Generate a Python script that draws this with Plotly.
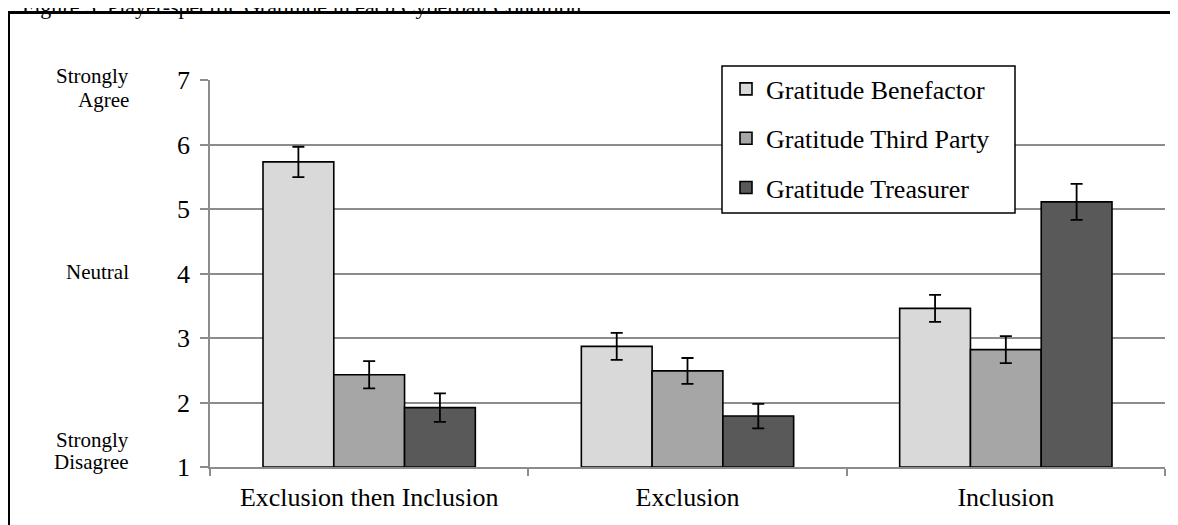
import plotly.graph_objects as go

conditions = ["Exclusion then Inclusion", "Exclusion", "Inclusion"]
series_names = ["Gratitude Benefactor", "Gratitude Third Party", "Gratitude Treasurer"]
benefactor = [5.73, 2.87, 3.46]
third_party = [2.43, 2.49, 2.82]
treasurer = [1.92, 1.79, 5.11]
benefactor_err = [0.235, 0.21, 0.21]
third_party_err = [0.21, 0.20, 0.21]
treasurer_err = [0.22, 0.19, 0.28]
y_ticks = [1, 2, 3, 4, 5, 6, 7]
colors = ["#d9d9d9", "#a6a6a6", "#595959"]
title_text = "Figure 3. Player-specific Gratitude in each Cyberball Condition"

FONT = "Liberation Serif, Times New Roman, serif"
GRID = "#8c8c8c"

fig = go.Figure()
for name, vals, errs, col in zip(series_names, [benefactor, third_party, treasurer],
                                 [benefactor_err, third_party_err, treasurer_err], colors):
    fig.add_trace(go.Bar(
        x=conditions, y=[v - 1 for v in vals], base=1, name=name,
        legendgroup=name,
        marker=dict(color=col, line=dict(color="black", width=1.6)),
        error_y=dict(type="data", array=errs, visible=True, color="black",
                     thickness=1.8, width=6),
    ))

OFF = 8  # page body margin
W, H = 1170, 517
ml, mr, mt, mb = 202, 13, 72, 58
pw, ph = W - ml - mr, H - mt - mb

def px_x(sx):
    return (sx - OFF - ml) / pw

def px_y(sy):
    return (H - mb - (sy - OFF)) / ph

annotations = [
    dict(text="Strongly", x=px_x(131), y=px_y(76), xanchor="right", yanchor="middle"),
    dict(text="Agree", x=px_x(131), y=px_y(99.5), xanchor="right", yanchor="middle"),
    dict(text="Neutral", x=px_x(131), y=px_y(272), xanchor="right", yanchor="middle"),
    dict(text="Strongly", x=px_x(131), y=px_y(440), xanchor="right", yanchor="middle"),
    dict(text="Disagree", x=px_x(131), y=px_y(462), xanchor="right", yanchor="middle"),
]
for a in annotations:
    a.update(xref="paper", yref="paper", showarrow=False, align="right",
             font=dict(family=FONT, size=21, color="black"))

annotations.append(dict(text=title_text, xref="paper", yref="paper",
                        x=px_x(20), y=px_y(21), xanchor="left", yanchor="bottom",
                        showarrow=False, font=dict(family=FONT, size=22, color="black")))

fig.update_layout(
    width=W, height=H,
    margin=dict(l=ml, r=mr, t=mt, b=mb, autoexpand=False),
    paper_bgcolor="white", plot_bgcolor="white",
    barmode="group", bargap=0.333, bargroupgap=0,
    font=dict(family=FONT, size=26, color="black"),
    showlegend=True,
    legend=dict(x=px_x(726), y=px_y(65.5), xanchor="left", yanchor="top",
                borderwidth=0, bgcolor="rgba(0,0,0,0)",
                font=dict(family=FONT, size=26, color="black"),
                traceorder="grouped", tracegroupgap=12.5, itemwidth=30),
    annotations=annotations,
    shapes=[
        dict(type="rect", xref="paper", yref="paper",
             x0=px_x(8.5), x1=1.2, y0=-0.5, y1=px_y(12.5),
             line=dict(color="black", width=3), layer="below"),
        dict(type="rect", xref="paper", yref="paper",
             x0=px_x(722), x1=px_x(1015), y0=px_y(213), y1=px_y(66),
             line=dict(color="black", width=1.5), fillcolor="white", layer="above"),
    ],
)

fig.update_yaxes(range=[1, 7], tickvals=y_ticks, showgrid=True, gridcolor=GRID, gridwidth=1.5,
                 showline=True, linecolor=GRID, linewidth=1.5, ticks="outside", ticklen=8,
                 tickcolor=GRID, tickwidth=1.5, zeroline=False, ticklabelstandoff=5,
                 tickfont=dict(family=FONT, size=26, color="black"))
fig.update_xaxes(showline=True, linecolor=GRID, linewidth=1.5, ticks="outside",
                 tickson="boundaries", ticklen=7, tickcolor=GRID, tickwidth=1.5,
                 showgrid=False, ticklabelstandoff=6,
                 tickfont=dict(family=FONT, size=26, color="black"))

fig.write_html("out.html")
